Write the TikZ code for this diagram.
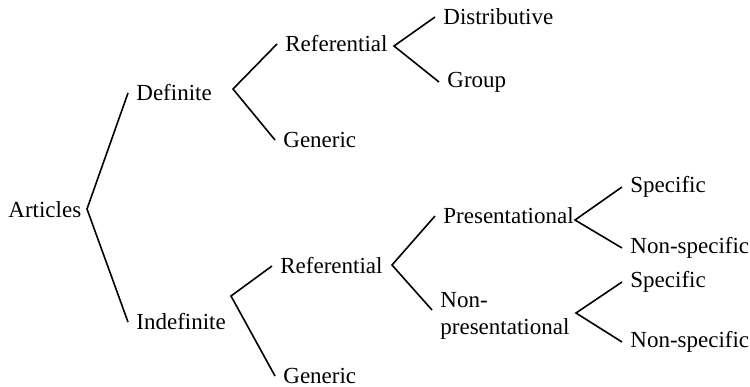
\documentclass[tikz,border=0pt]{standalone}
\usepackage{fontspec}
\setmainfont{Liberation Serif}
\usetikzlibrary{positioning}

\begin{document}
\begin{tikzpicture}[x=0.5pt, y=-0.5pt,
			every node/.style={font=\fontsize{11.5}{13.5}\selectfont},
			word/.style={anchor=west, inner xsep=4pt, inner ysep=2pt},
			branch/.style={draw=black, line width=0.8pt}]
	\useasboundingbox (0,0) rectangle (750,386);

	\node[word] (art) at (0,210) {Articles};

	\node[word] (def) at (128,93) {Definite};
	\node[word] (dref) at (277,44) {Referential};
	\node[word] (dgen) at (275,140) {Generic};
	\node[word] (dist) at (435,17) {Distributive};
	\node[word] (grp) at (439,82) {Group};

	\node[word] (indef) at (128,322) {Indefinite};
	\node[word] (iref) at (272,266) {Referential};
	\node[word] (igen) at (275,376) {Generic};
	\node[word] (pres) at (435,216) {Presentational};
	\node[word, align=left] (nonpres) at (432,316) {Non-\\presentational};
	\node[word] (spec1) at (622,187) {Specific};
	\node[word] (nspec1) at (622,248) {Non-specific};
	\node[word] (spec2) at (622,282) {Specific};
	\node[word] (nspec2) at (622,342) {Non-specific};

	% fork points
	\coordinate (artfork) at (87,209);
	\coordinate (deffork) at (233,89);
	\coordinate (dreffork) at (394,46);
	\coordinate (indeffork) at (231,296);
	\coordinate (ireffork) at (392,265);
	\coordinate (presfork) at (575,220);
	\coordinate (nonpresfork) at (576,313);

	\draw[branch] (def.west) -- (artfork) -- (indef.west);
	\draw[branch] (dref.west) -- (deffork) -- (dgen.west);
	\draw[branch] (dist.west) -- (dreffork) -- (grp.west);
	\draw[branch] (iref.west) -- (indeffork) -- (igen.west);
	\draw[branch] (pres.west) -- (ireffork) -- ([yshift=3pt]nonpres.west);
	\draw[branch] (spec1.west) -- (presfork) -- (nspec1.west);
	\draw[branch] (spec2.west) -- (nonpresfork) -- (nspec2.west);
\end{tikzpicture}
\end{document}
